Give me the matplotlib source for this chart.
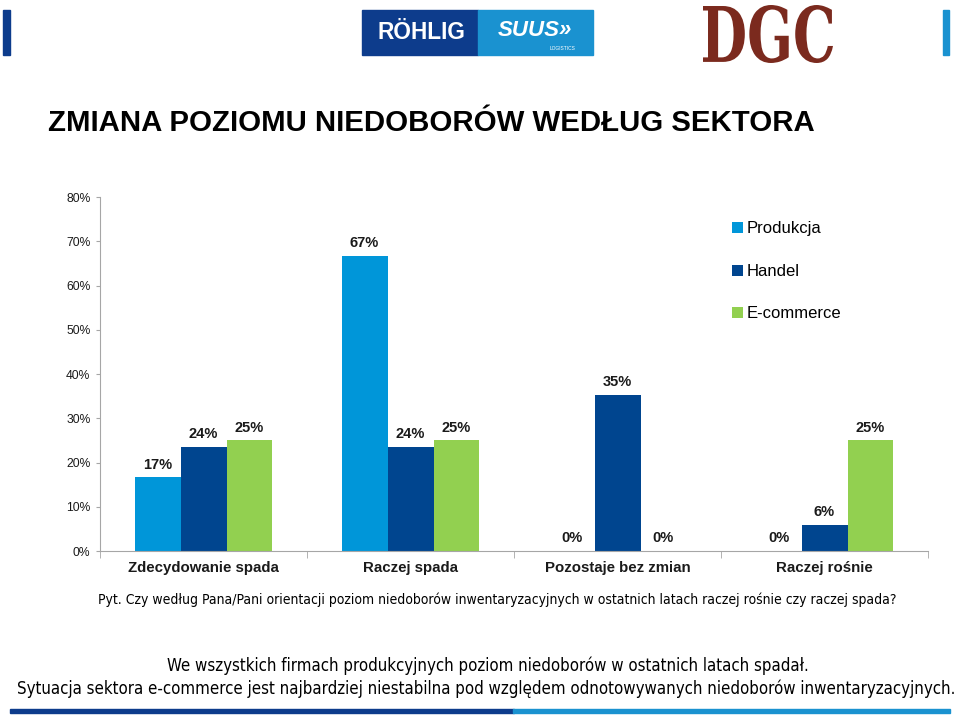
import numpy as np
import matplotlib.pyplot as plt
from matplotlib.patches import Rectangle, PathPatch
from matplotlib.textpath import TextPath
from matplotlib.font_manager import FontProperties
from matplotlib.transforms import Affine2D, IdentityTransform
from matplotlib.ticker import PercentFormatter

plt.rcParams['font.family'] = ['Liberation Sans', 'DejaVu Sans']

categories = ['Zdecydowanie spada', 'Raczej spada', 'Pozostaje bez zmian', 'Raczej rośnie']
series = ['Produkcja', 'Handel', 'E-commerce']
produkcja = [16.7, 66.7, 0, 0]
handel = [23.5, 23.5, 35.3, 5.9]
ecommerce = [25.0, 25.0, 0, 25.0]
colors = ['#0096d9', '#00458f', '#92d050']

question = 'Pyt. Czy według Pana/Pani orientacji poziom niedoborów inwentaryzacyjnych w ostatnich latach raczej rośnie czy raczej spada?'
summary = ['We wszystkich firmach produkcyjnych poziom niedoborów w ostatnich latach spadał.',
           'Sytuacja sektora e-commerce jest najbardziej niestabilna pod względem odnotowywanych niedoborów inwentaryzacyjnych.']

fig = plt.figure(figsize=(9.59, 7.17), dpi=100)
ax = fig.add_axes([0.1043, 0.2315, 0.8634, 0.4937])

x = np.arange(len(categories))
w = 0.222
for i, (name, vals) in enumerate(zip(series, [produkcja, handel, ecommerce])):
    bars = ax.bar(x + (i - 1) * w, vals, w, color=colors[i], label=name)
    for b, v in zip(bars, vals):
        ax.annotate(f'{round(v):d}%', (b.get_x() + b.get_width() / 2, v),
                    xytext=(0, 4), textcoords='offset points', ha='center', va='bottom',
                    fontsize=10.5, fontweight='bold', color='#1a1a1a')

ax.set_xlim(-0.5, 3.5)
ax.set_ylim(0, 80)
ax.set_yticks(np.arange(0, 81, 10))
ax.yaxis.set_major_formatter(PercentFormatter(decimals=0))
ax.set_xticks(x)
ax.set_xticklabels(categories, fontsize=10.8, fontweight='bold', color='#1a1a1a')
ax.set_xticks(np.arange(-0.5, 4, 1), minor=True)
ax.tick_params(axis='x', which='major', length=0, pad=7)
ax.tick_params(axis='x', which='minor', length=5, color='#a6a6a6', direction='out')
ax.tick_params(axis='y', length=3, color='#a6a6a6', labelsize=8.7, labelcolor='#1a1a1a', pad=4)
for s in ['top', 'right']:
    ax.spines[s].set_visible(False)
for s in ['left', 'bottom']:
    ax.spines[s].set_color('#a6a6a6')

ax.legend(loc='upper left', bbox_to_anchor=(0.748, 0.712), bbox_transform=fig.transFigure,
          frameon=False, fontsize=12, handlelength=0.65, handleheight=0.65,
          handletextpad=0.2, labelspacing=1.65)

fig.text(0.050, 0.829, 'ZMIANA POZIOMU NIEDOBORÓW WEDŁUG SEKTORA', fontsize=21.2,
         fontweight='bold', va='center', ha='left')

cond = dict(family=['Liberation Sans Narrow', 'DejaVu Sans'], stretch='condensed')
fig.text(0.518, 0.164, question, fontsize=10.0, ha='center', va='center', **cond)
fig.text(0.509, 0.072, summary[0], fontsize=12.1, ha='center', va='center', **cond)
fig.text(0.507, 0.040, summary[1], fontsize=12.1, ha='center', va='center', **cond)

# header logos and decorations
fig.patches.append(Rectangle((0.0105, 0.006), 0.525, 0.005, transform=fig.transFigure, color='#0d3c8c'))
fig.patches.append(Rectangle((0.535, 0.006), 0.456, 0.005, transform=fig.transFigure, color='#1a92d0'))
fig.patches.append(Rectangle((0.003, 0.923), 0.007, 0.063, transform=fig.transFigure, color='#0d3c8c'))
fig.patches.append(Rectangle((0.983, 0.923), 0.007, 0.063, transform=fig.transFigure, color='#1a92d0'))
fig.patches.append(Rectangle((0.3775, 0.923), 0.121, 0.063, transform=fig.transFigure, color='#0d3c8c'))
fig.patches.append(Rectangle((0.4985, 0.923), 0.120, 0.063, transform=fig.transFigure, color='#1a92d0'))
fig.text(0.439, 0.955, 'RÖHLIG', color='white', fontsize=16.3, fontweight='bold', ha='center', va='center')
fig.text(0.558, 0.958, 'SUUS»', color='white', fontsize=16, fontweight='bold', style='italic', ha='center', va='center')
fig.text(0.587, 0.933, 'LOGISTICS', color='white', fontsize=3.5, ha='center', va='center')

# DGC logo: bold serif letters stretched tall and narrow
tp = TextPath((0, 0), 'DGC', size=100, prop=FontProperties(family='DejaVu Serif', weight='bold'))
ext = tp.get_extents()
sx = 130 / ext.width
sy = 58 / ext.height
tr = Affine2D().translate(-ext.x0, -ext.y0).scale(sx, sy).translate(703, 717 - 63) + IdentityTransform()
fig.patches.append(PathPatch(tp, transform=tr, color='#7b2a1e', lw=0))

fig.savefig('out.png', dpi=100)
